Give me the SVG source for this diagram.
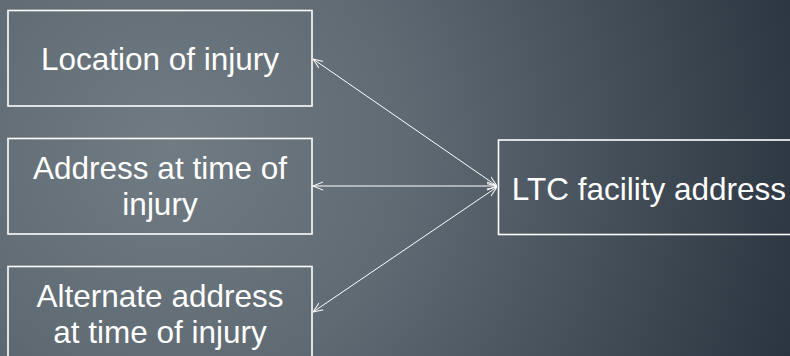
<svg xmlns="http://www.w3.org/2000/svg" width="790" height="356" viewBox="0 0 790 356">
<defs>
<radialGradient id="bg" gradientUnits="userSpaceOnUse" cx="170" cy="150" r="680">
<stop offset="0" stop-color="#717b83"/>
<stop offset="0.35" stop-color="#5f6a73"/>
<stop offset="1" stop-color="#26313d"/>
</radialGradient>
<marker id="arr" viewBox="0 0 10 10" refX="10" refY="5" markerWidth="10" markerHeight="10" markerUnits="userSpaceOnUse" orient="auto-start-reverse">
<path d="M0,1 L10,5 L0,9" fill="none" stroke="#ffffff" stroke-width="1"/>
</marker>
<style>
.box{fill:none;stroke:#ffffff;stroke-width:1.6}
.t{font-family:"Liberation Sans",Arial,sans-serif;font-size:31.5px;fill:#ffffff;text-anchor:middle}
.c{stroke:#ffffff;stroke-width:1;fill:none;marker-start:url(#arr);marker-end:url(#arr)}
</style>
</defs>
<rect width="790" height="356" fill="url(#bg)"/>
<g id="n1">
<rect class="box" x="8" y="10.5" width="304" height="95.5"/>
<text class="t" x="160" y="70">Location of injury</text>
</g>
<g id="n2">
<rect class="box" x="8" y="138.5" width="304" height="95.5"/>
<text class="t" x="160" y="179">Address at time of</text>
<text class="t" x="160" y="214.5">injury</text>
</g>
<g id="n3">
<rect class="box" x="8" y="266.5" width="304" height="100"/>
<text class="t" x="160" y="307">Alternate address</text>
<text class="t" x="160" y="342.5">at time of injury</text>
</g>
<g id="n4">
<rect class="box" x="498.5" y="140" width="310" height="94.5"/>
<text class="t" x="649" y="199.5">LTC facility address</text>
</g>
<g id="connectors">
<line class="c" x1="313" y1="59" x2="497" y2="186"/>
<line class="c" x1="313" y1="186" x2="497" y2="186"/>
<line class="c" x1="313" y1="312" x2="497" y2="187"/>
</g>
</svg>
